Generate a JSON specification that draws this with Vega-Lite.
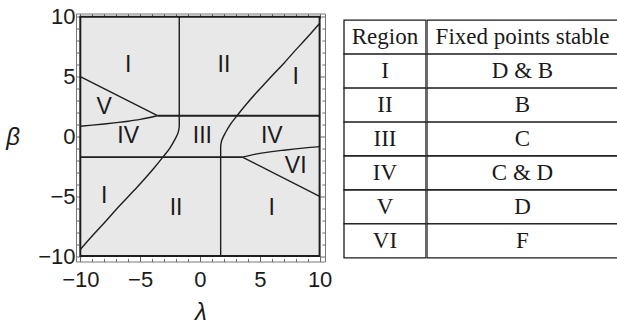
{
  "$schema": "https://vega.github.io/schema/vega-lite/v6.json",
  "background": "white",
  "padding": {"top": 5.5, "left": 5, "right": 0, "bottom": 0},
  "config": {
    "view": {"stroke": null},
    "axis": {
      "grid": false,
      "domainColor": "#777777",
      "domainWidth": 1,
      "tickColor": "#666666",
      "tickWidth": 1,
      "labelFont": "Liberation Sans",
      "labelFontSize": 22,
      "labelColor": "#1a1a1a",
      "labelOverlap": false,
      "labelFlush": false,
      "titleFont": "Liberation Sans",
      "titleFontSize": 24,
      "titleFontWeight": "normal",
      "titleFontStyle": "italic",
      "titleColor": "#1a1a1a"
    }
  },
  "datasets": {
    "bounds": [
      {"seg": "upperH", "i": 0, "lambda": -3.55, "beta": 1.73},
      {"seg": "upperH", "i": 1, "lambda": 10, "beta": 1.73},
      {"seg": "lowerH", "i": 0, "lambda": -10, "beta": -1.73},
      {"seg": "lowerH", "i": 1, "lambda": 3.55, "beta": -1.73},
      {"seg": "rightCurve", "i": 0, "lambda": 1.73, "beta": -10},
      {"seg": "rightCurve", "i": 1, "lambda": 1.73, "beta": -0.85},
      {"seg": "rightCurve", "i": 2, "lambda": 1.78, "beta": -0.5},
      {"seg": "rightCurve", "i": 3, "lambda": 1.92, "beta": -0.1},
      {"seg": "rightCurve", "i": 4, "lambda": 2.15, "beta": 0.35},
      {"seg": "rightCurve", "i": 5, "lambda": 2.5, "beta": 0.95},
      {"seg": "rightCurve", "i": 6, "lambda": 3.1, "beta": 1.73},
      {"seg": "rightCurve", "i": 7, "lambda": 3.8, "beta": 2.6},
      {"seg": "rightCurve", "i": 8, "lambda": 4.65, "beta": 3.58},
      {"seg": "rightCurve", "i": 9, "lambda": 5.5, "beta": 4.5},
      {"seg": "rightCurve", "i": 10, "lambda": 6.2, "beta": 5.25},
      {"seg": "rightCurve", "i": 11, "lambda": 7.0, "beta": 6.1},
      {"seg": "rightCurve", "i": 12, "lambda": 7.8, "beta": 7.0},
      {"seg": "rightCurve", "i": 13, "lambda": 8.9, "beta": 8.2},
      {"seg": "rightCurve", "i": 14, "lambda": 10, "beta": 9.45},
      {"seg": "leftCurve", "i": 0, "lambda": -1.73, "beta": 10},
      {"seg": "leftCurve", "i": 1, "lambda": -1.73, "beta": 0.85},
      {"seg": "leftCurve", "i": 2, "lambda": -1.78, "beta": 0.5},
      {"seg": "leftCurve", "i": 3, "lambda": -1.92, "beta": 0.1},
      {"seg": "leftCurve", "i": 4, "lambda": -2.15, "beta": -0.35},
      {"seg": "leftCurve", "i": 5, "lambda": -2.5, "beta": -0.95},
      {"seg": "leftCurve", "i": 6, "lambda": -3.1, "beta": -1.73},
      {"seg": "leftCurve", "i": 7, "lambda": -3.8, "beta": -2.6},
      {"seg": "leftCurve", "i": 8, "lambda": -4.65, "beta": -3.58},
      {"seg": "leftCurve", "i": 9, "lambda": -5.5, "beta": -4.5},
      {"seg": "leftCurve", "i": 10, "lambda": -6.2, "beta": -5.25},
      {"seg": "leftCurve", "i": 11, "lambda": -7.0, "beta": -6.1},
      {"seg": "leftCurve", "i": 12, "lambda": -7.8, "beta": -7.0},
      {"seg": "leftCurve", "i": 13, "lambda": -8.9, "beta": -8.2},
      {"seg": "leftCurve", "i": 14, "lambda": -10, "beta": -9.45},
      {"seg": "vTop", "i": 0, "lambda": -10, "beta": 5},
      {"seg": "vTop", "i": 1, "lambda": -3.55, "beta": 1.73},
      {"seg": "vLow", "i": 0, "lambda": -10, "beta": 0.85},
      {"seg": "vLow", "i": 1, "lambda": -9, "beta": 0.94},
      {"seg": "vLow", "i": 2, "lambda": -8, "beta": 1.04},
      {"seg": "vLow", "i": 3, "lambda": -7, "beta": 1.15},
      {"seg": "vLow", "i": 4, "lambda": -6, "beta": 1.27},
      {"seg": "vLow", "i": 5, "lambda": -5, "beta": 1.42},
      {"seg": "vLow", "i": 6, "lambda": -4.2, "beta": 1.58},
      {"seg": "vLow", "i": 7, "lambda": -3.55, "beta": 1.73},
      {"seg": "viTop", "i": 0, "lambda": 3.55, "beta": -1.73},
      {"seg": "viTop", "i": 1, "lambda": 4.2, "beta": -1.58},
      {"seg": "viTop", "i": 2, "lambda": 5, "beta": -1.42},
      {"seg": "viTop", "i": 3, "lambda": 6, "beta": -1.27},
      {"seg": "viTop", "i": 4, "lambda": 7, "beta": -1.15},
      {"seg": "viTop", "i": 5, "lambda": 8, "beta": -1.04},
      {"seg": "viTop", "i": 6, "lambda": 9, "beta": -0.94},
      {"seg": "viTop", "i": 7, "lambda": 10, "beta": -0.85},
      {"seg": "viLow", "i": 0, "lambda": 3.55, "beta": -1.73},
      {"seg": "viLow", "i": 1, "lambda": 10, "beta": -5}
    ],
    "labels": [
      {"name": "I", "lambda": -6, "beta": 6},
      {"name": "II", "lambda": 2, "beta": 6},
      {"name": "I", "lambda": 8, "beta": 5},
      {"name": "V", "lambda": -8, "beta": 2.5},
      {"name": "IV", "lambda": -6, "beta": 0},
      {"name": "III", "lambda": 0.2, "beta": 0},
      {"name": "IV", "lambda": 6, "beta": 0},
      {"name": "VI", "lambda": 8, "beta": -2.5},
      {"name": "I", "lambda": -8, "beta": -5},
      {"name": "II", "lambda": -2, "beta": -6},
      {"name": "I", "lambda": 6, "beta": -6}
    ],
    "table": [
      {"order": 0, "region": "Region", "stable": "Fixed points stable"},
      {"order": 1, "region": "I", "stable": "D & B"},
      {"order": 2, "region": "II", "stable": "B"},
      {"order": 3, "region": "III", "stable": "C"},
      {"order": 4, "region": "IV", "stable": "C & D"},
      {"order": 5, "region": "V", "stable": "D"},
      {"order": 6, "region": "VI", "stable": "F"}
    ]
  },
  "spacing": 11,
  "hconcat": [
    {
      "width": 249,
      "height": 248,
      "layer": [
        {
          "data": {"values": [{"lo": -10, "hi": 10}]},
          "mark": {"type": "rect", "fill": "#e8e8e8", "stroke": "#1e1e1e", "strokeWidth": 2},
          "encoding": {
            "x": {
              "field": "lo", "type": "quantitative",
              "scale": {"domain": [-10.36, 10.45], "nice": false, "zero": false},
              "axis": {
                "orient": "bottom",
                "title": "λ",
                "values": [-10, -9, -8, -7, -6, -5, -4, -3, -2, -1, 0, 1, 2, 3, 4, 5, 6, 7, 8, 9, 10],
                "labelExpr": "datum.value % 5 === 0 ? datum.label : ''",
                "tickSize": {"condition": {"test": "datum.value % 5 === 0", "value": -5}, "value": -3},
                "labelPadding": 13,
                "titlePadding": 8
              }
            },
            "x2": {"field": "hi"},
            "y": {
              "field": "lo", "type": "quantitative",
              "scale": {"domain": [-10.45, 10.27], "nice": false, "zero": false},
              "axis": {
                "orient": "left",
                "title": "β",
                "titleAngle": 0,
                "titleBaseline": "middle",
                "values": [-10, -9, -8, -7, -6, -5, -4, -3, -2, -1, 0, 1, 2, 3, 4, 5, 6, 7, 8, 9, 10],
                "labelExpr": "datum.value % 5 === 0 ? datum.label : ''",
                "tickSize": {"condition": {"test": "datum.value % 5 === 0", "value": -5}, "value": -3},
                "labelPadding": 6,
                "titlePadding": 25
              }
            },
            "y2": {"field": "hi"}
          }
        },
        {
          "data": {"name": "bounds"},
          "transform": [{"filter": "datum.seg === 'upperH' || datum.seg === 'lowerH'"}],
          "mark": {"type": "line", "stroke": "#1e1e1e", "strokeWidth": 1.9},
          "encoding": {
            "x": {"field": "lambda", "type": "quantitative", "scale": {"domain": [-10.36, 10.45], "nice": false, "zero": false}, "axis": null},
            "y": {"field": "beta", "type": "quantitative", "scale": {"domain": [-10.45, 10.27], "nice": false, "zero": false}, "axis": null},
            "detail": {"field": "seg"},
            "order": {"field": "i", "type": "quantitative"}
          }
        },
        {
          "data": {"name": "bounds"},
          "transform": [{"filter": "datum.seg !== 'upperH' && datum.seg !== 'lowerH'"}],
          "mark": {"type": "line", "stroke": "#1e1e1e", "strokeWidth": 1.4, "interpolate": "monotone"},
          "encoding": {
            "x": {"field": "lambda", "type": "quantitative", "scale": {"domain": [-10.36, 10.45], "nice": false, "zero": false}, "axis": null},
            "y": {"field": "beta", "type": "quantitative", "scale": {"domain": [-10.45, 10.27], "nice": false, "zero": false}, "axis": null},
            "detail": {"field": "seg"},
            "order": {"field": "i", "type": "quantitative"}
          }
        },
        {
          "data": {"name": "labels"},
          "mark": {"type": "text", "font": "Liberation Sans", "fontSize": 23, "color": "#1a1a1a"},
          "encoding": {
            "x": {
              "field": "lambda", "type": "quantitative",
              "scale": {"domain": [-10.36, 10.45], "nice": false, "zero": false},
              "axis": {
                "orient": "top", "title": null, "labels": false,
                "values": [-10, -9, -8, -7, -6, -5, -4, -3, -2, -1, 0, 1, 2, 3, 4, 5, 6, 7, 8, 9, 10],
                "tickSize": {"condition": {"test": "datum.value % 5 === 0", "value": -5}, "value": -3}
              }
            },
            "y": {
              "field": "beta", "type": "quantitative",
              "scale": {"domain": [-10.45, 10.27], "nice": false, "zero": false},
              "axis": {
                "orient": "right", "title": null, "labels": false,
                "values": [-10, -9, -8, -7, -6, -5, -4, -3, -2, -1, 0, 1, 2, 3, 4, 5, 6, 7, 8, 9, 10],
                "tickSize": {"condition": {"test": "datum.value % 5 === 0", "value": -5}, "value": -3}
              }
            },
            "text": {"field": "name"}
          }
        }
      ],
      "resolve": {"axis": {"x": "independent", "y": "independent"}}
    },
    {
      "spacing": 0,
      "hconcat": [
        {
          "width": 82,
          "height": 248,
          "data": {"name": "table"},
          "layer": [
            {
              "mark": {"type": "rect", "fill": "white", "stroke": "#1a1a1a", "strokeWidth": 1.3},
              "encoding": {
                "y": {"field": "order", "type": "ordinal", "axis": null, "scale": {"paddingInner": 0, "paddingOuter": 0.15, "align": 0.65}}
              }
            },
            {
              "mark": {"type": "text", "font": "Liberation Serif", "fontSize": 23, "color": "#1a1a1a"},
              "encoding": {
                "y": {"field": "order", "type": "ordinal", "axis": null, "scale": {"paddingInner": 0, "paddingOuter": 0.15, "align": 0.65}},
                "text": {"field": "region"}
              }
            }
          ]
        },
        {
          "width": 191,
          "height": 248,
          "data": {"name": "table"},
          "layer": [
            {
              "mark": {"type": "rect", "fill": "white", "stroke": "#1a1a1a", "strokeWidth": 1.3, "clip": true},
              "encoding": {
                "x": {"datum": 0, "type": "quantitative", "scale": {"domain": [0, 1], "nice": false, "zero": false}, "axis": null},
                "x2": {"datum": 1.1},
                "y": {"field": "order", "type": "ordinal", "axis": null, "scale": {"paddingInner": 0, "paddingOuter": 0.15, "align": 0.65}}
              }
            },
            {
              "mark": {"type": "text", "font": "Liberation Serif", "fontSize": 23, "color": "#1a1a1a"},
              "encoding": {
                "y": {"field": "order", "type": "ordinal", "axis": null, "scale": {"paddingInner": 0, "paddingOuter": 0.15, "align": 0.65}},
                "text": {"field": "stable"}
              }
            }
          ]
        }
      ]
    }
  ]
}
